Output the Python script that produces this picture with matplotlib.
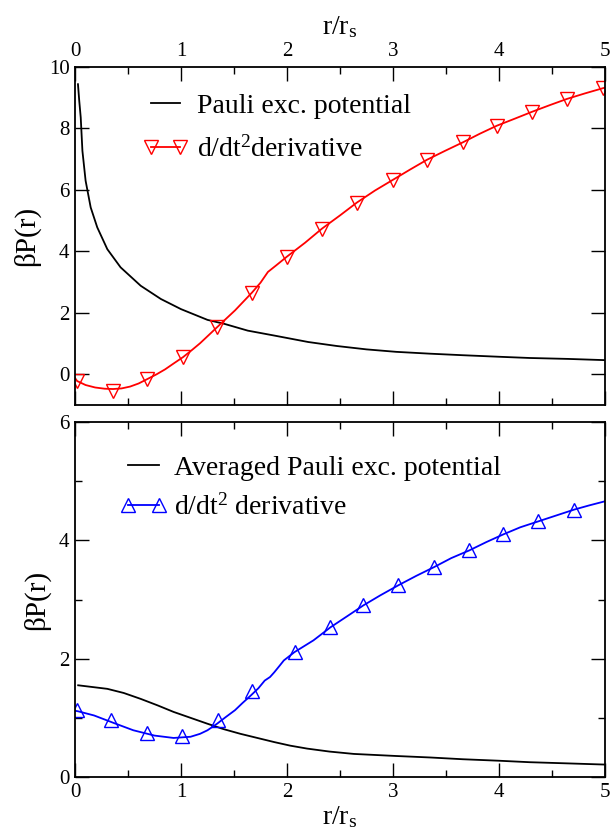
import matplotlib
matplotlib.use("Agg")
import matplotlib.pyplot as plt
from matplotlib.ticker import MultipleLocator

plt.rcParams['font.family'] = ['Liberation Serif', 'DejaVu Serif']
plt.rcParams['mathtext.fontset'] = 'custom'
plt.rcParams['mathtext.rm'] = 'Liberation Serif'
plt.rcParams['mathtext.it'] = 'Liberation Serif:italic'

# ---------------- top panel data ----------------
top_black_r = [0.028, 0.04, 0.054, 0.07, 0.10, 0.148, 0.21, 0.305, 0.43, 0.62, 0.81,
               1.0, 1.25, 1.41, 1.63, 1.88, 2.2, 2.47, 2.75, 3.03, 3.35, 3.66,
               4.0, 4.29, 4.65, 5.0]
top_black_v = [9.44, 8.9, 8.36, 7.27, 6.3, 5.43, 4.78, 4.07, 3.48, 2.88, 2.45,
               2.12, 1.77, 1.64, 1.42, 1.26, 1.05, 0.92, 0.81, 0.73, 0.67, 0.62,
               0.57, 0.53, 0.50, 0.46]

top_red_line_r = [0.0, 0.02, 0.1, 0.19, 0.28, 0.36, 0.44, 0.52, 0.6, 0.68, 0.77, 0.85,
                  0.93, 1.02, 1.1, 1.18, 1.26, 1.34, 1.42, 1.51, 1.59, 1.67, 1.75,
                  1.82, 1.9, 2.0, 2.17, 2.33, 2.5, 2.66, 2.83, 3.0, 3.16, 3.32,
                  3.49, 3.66, 3.82, 3.98, 4.15, 4.31, 4.48, 4.64, 4.81, 5.0]
top_red_line_v = [-0.12, -0.22, -0.35, -0.43, -0.47, -0.48, -0.46, -0.40, -0.30, -0.16,
                  0.0, 0.16, 0.35, 0.56, 0.78, 1.01, 1.27, 1.53, 1.79, 2.08, 2.37,
                  2.66, 2.98, 3.33, 3.55, 3.83, 4.28, 4.74, 5.17, 5.59, 5.98, 6.33,
                  6.66, 6.98, 7.27, 7.55, 7.83, 8.09, 8.32, 8.54, 8.76, 8.96, 9.14, 9.33]
top_red_mark_r = [0.02, 0.36, 0.68, 1.02, 1.34, 1.67, 2.0, 2.33, 2.66, 3.0, 3.32,
                  3.66, 3.98, 4.31, 4.64, 4.98]
top_red_mark_v = [-0.22, -0.54, -0.16, 0.56, 1.55, 2.66, 3.83, 4.74, 5.59, 6.33, 6.98,
                  7.55, 8.09, 8.54, 8.96, 9.31]

# ---------------- bottom panel data ----------------
bot_black_r = [0.03, 0.305, 0.46, 0.62, 0.78, 0.93, 1.09, 1.25, 1.4, 1.56, 1.72,
               1.88, 2.03, 2.19, 2.4, 2.63, 3.03, 3.35, 3.66, 4.0, 4.29, 4.65, 5.0]
bot_black_v = [1.55, 1.49, 1.42, 1.32, 1.21, 1.10, 1.0, 0.90, 0.81, 0.73, 0.66,
               0.59, 0.53, 0.48, 0.43, 0.39, 0.355, 0.33, 0.30, 0.275, 0.25, 0.23, 0.21]

bot_blue_line_r = [0.0, 0.03, 0.18, 0.37, 0.55, 0.75, 0.93, 1.09, 1.18, 1.25, 1.34,
                   1.42, 1.51, 1.58, 1.66, 1.73, 1.79, 1.84, 1.88, 1.93, 1.97, 2.07,
                   2.25, 2.41, 2.57, 2.72, 2.88, 3.05, 3.22, 3.39, 3.55, 3.72, 3.88,
                   4.04, 4.2, 4.37, 4.54, 4.71, 4.85, 5.0]
bot_blue_line_v = [1.12, 1.11, 1.04, 0.91, 0.79, 0.70, 0.66, 0.68, 0.73, 0.79, 0.90,
                   1.01, 1.13, 1.25, 1.38, 1.50, 1.63, 1.69, 1.77, 1.88, 1.97, 2.11,
                   2.31, 2.53, 2.72, 2.90, 3.07, 3.24, 3.40, 3.55, 3.70, 3.83, 3.97,
                   4.1, 4.22, 4.32, 4.42, 4.52, 4.59, 4.66]
bot_blue_mark_r = [0.02, 0.34, 0.68, 1.01, 1.35, 1.67, 2.08, 2.41, 2.72, 3.05, 3.39,
                   3.72, 4.04, 4.37, 4.71]
bot_blue_mark_v = [1.14, 0.96, 0.75, 0.70, 0.96, 1.45, 2.11, 2.53, 2.90, 3.24, 3.55,
                   3.83, 4.1, 4.32, 4.52]

top_labels = ["Pauli exc. potential", "d/dt$^2$derivative"]
bot_labels = ["Averaged Pauli exc. potential", "d/dt$^2$ derivative"]
ylabel = "βP(r)"
xlabel = r"r/r$_\mathrm{s}$"

W, H = 610, 835
fig = plt.figure(figsize=(W / 100, H / 100), dpi=100)
ax1 = fig.add_axes([75 / W, 1 - 405 / H, 530 / W, 338 / H])
ax2 = fig.add_axes([75 / W, 1 - 777 / H, 530 / W, 355 / H])

lw = 1.3
ms = 10
fs_leg = 20

# top panel
ax1.plot(top_black_r, top_black_v, color='black', lw=lw)
ax1.plot(top_red_line_r, top_red_line_v, color='red', lw=lw)
ax1.plot(top_red_mark_r, top_red_mark_v, ls='none', marker='v', ms=ms,
         mfc='none', mec='red', mew=1.0)
h1a, = ax1.plot([], [], color='black', lw=lw)
h1b, = ax1.plot([], [], color='red', lw=lw, marker='v', ms=ms, mfc='none',
                mec='red', mew=1.0)
ax1.set_xlim(0, 5)
ax1.set_ylim(-1, 10)
ax1.yaxis.set_major_locator(MultipleLocator(2))
ax1.xaxis.set_major_locator(MultipleLocator(1))
ax1.xaxis.set_minor_locator(MultipleLocator(0.5))
ax1.xaxis.set_ticks_position('both')
ax1.xaxis.set_label_position('top')
ax1.tick_params(axis='x', labeltop=True, labelbottom=False)
ax1.set_xlabel(xlabel, fontsize=20, labelpad=6)
ax1.set_ylabel(ylabel, fontsize=21, labelpad=6)
leg1 = ax1.legend([h1a, h1b], top_labels, loc='upper left',
                  bbox_to_anchor=(0.128, 0.922), frameon=False, fontsize=fs_leg,
                  handlelength=1.65, handletextpad=0.31, numpoints=2,
                  labelspacing=0.64, borderpad=0, borderaxespad=0)

# bottom panel
ax2.plot(bot_black_r, bot_black_v, color='black', lw=lw)
ax2.plot(bot_blue_line_r, bot_blue_line_v, color='blue', lw=lw)
ax2.plot(bot_blue_mark_r, bot_blue_mark_v, ls='none', marker='^', ms=ms,
         mfc='none', mec='blue', mew=1.0)
h2a, = ax2.plot([], [], color='black', lw=lw)
h2b, = ax2.plot([], [], color='blue', lw=lw, marker='^', ms=ms, mfc='none',
                mec='blue', mew=1.0)
ax2.set_xlim(0, 5)
ax2.set_ylim(0, 6)
ax2.yaxis.set_major_locator(MultipleLocator(2))
ax2.yaxis.set_minor_locator(MultipleLocator(1))
ax2.xaxis.set_major_locator(MultipleLocator(1))
ax2.xaxis.set_minor_locator(MultipleLocator(0.5))
ax2.xaxis.set_ticks_position('both')
ax2.set_xlabel(xlabel, fontsize=20, labelpad=2)
ax2.set_ylabel(ylabel, fontsize=21, labelpad=6)
leg2 = ax2.legend([h2a, h2b], bot_labels, loc='upper left',
                  bbox_to_anchor=(0.084, 0.905), frameon=False, fontsize=fs_leg,
                  handlelength=1.72, handletextpad=0.24, numpoints=2,
                  labelspacing=0.48, borderpad=0, borderaxespad=0)

for ax in (ax1, ax2):
    ax.yaxis.set_ticks_position('both')
    ax.tick_params(which='major', direction='in', length=10, width=1.0,
                   labelsize=15, pad=4)
    ax.tick_params(which='minor', direction='in', length=5, width=1.0)
    for s in ax.spines.values():
        s.set_linewidth(1.3)

fig.savefig("out.png", dpi=100)
